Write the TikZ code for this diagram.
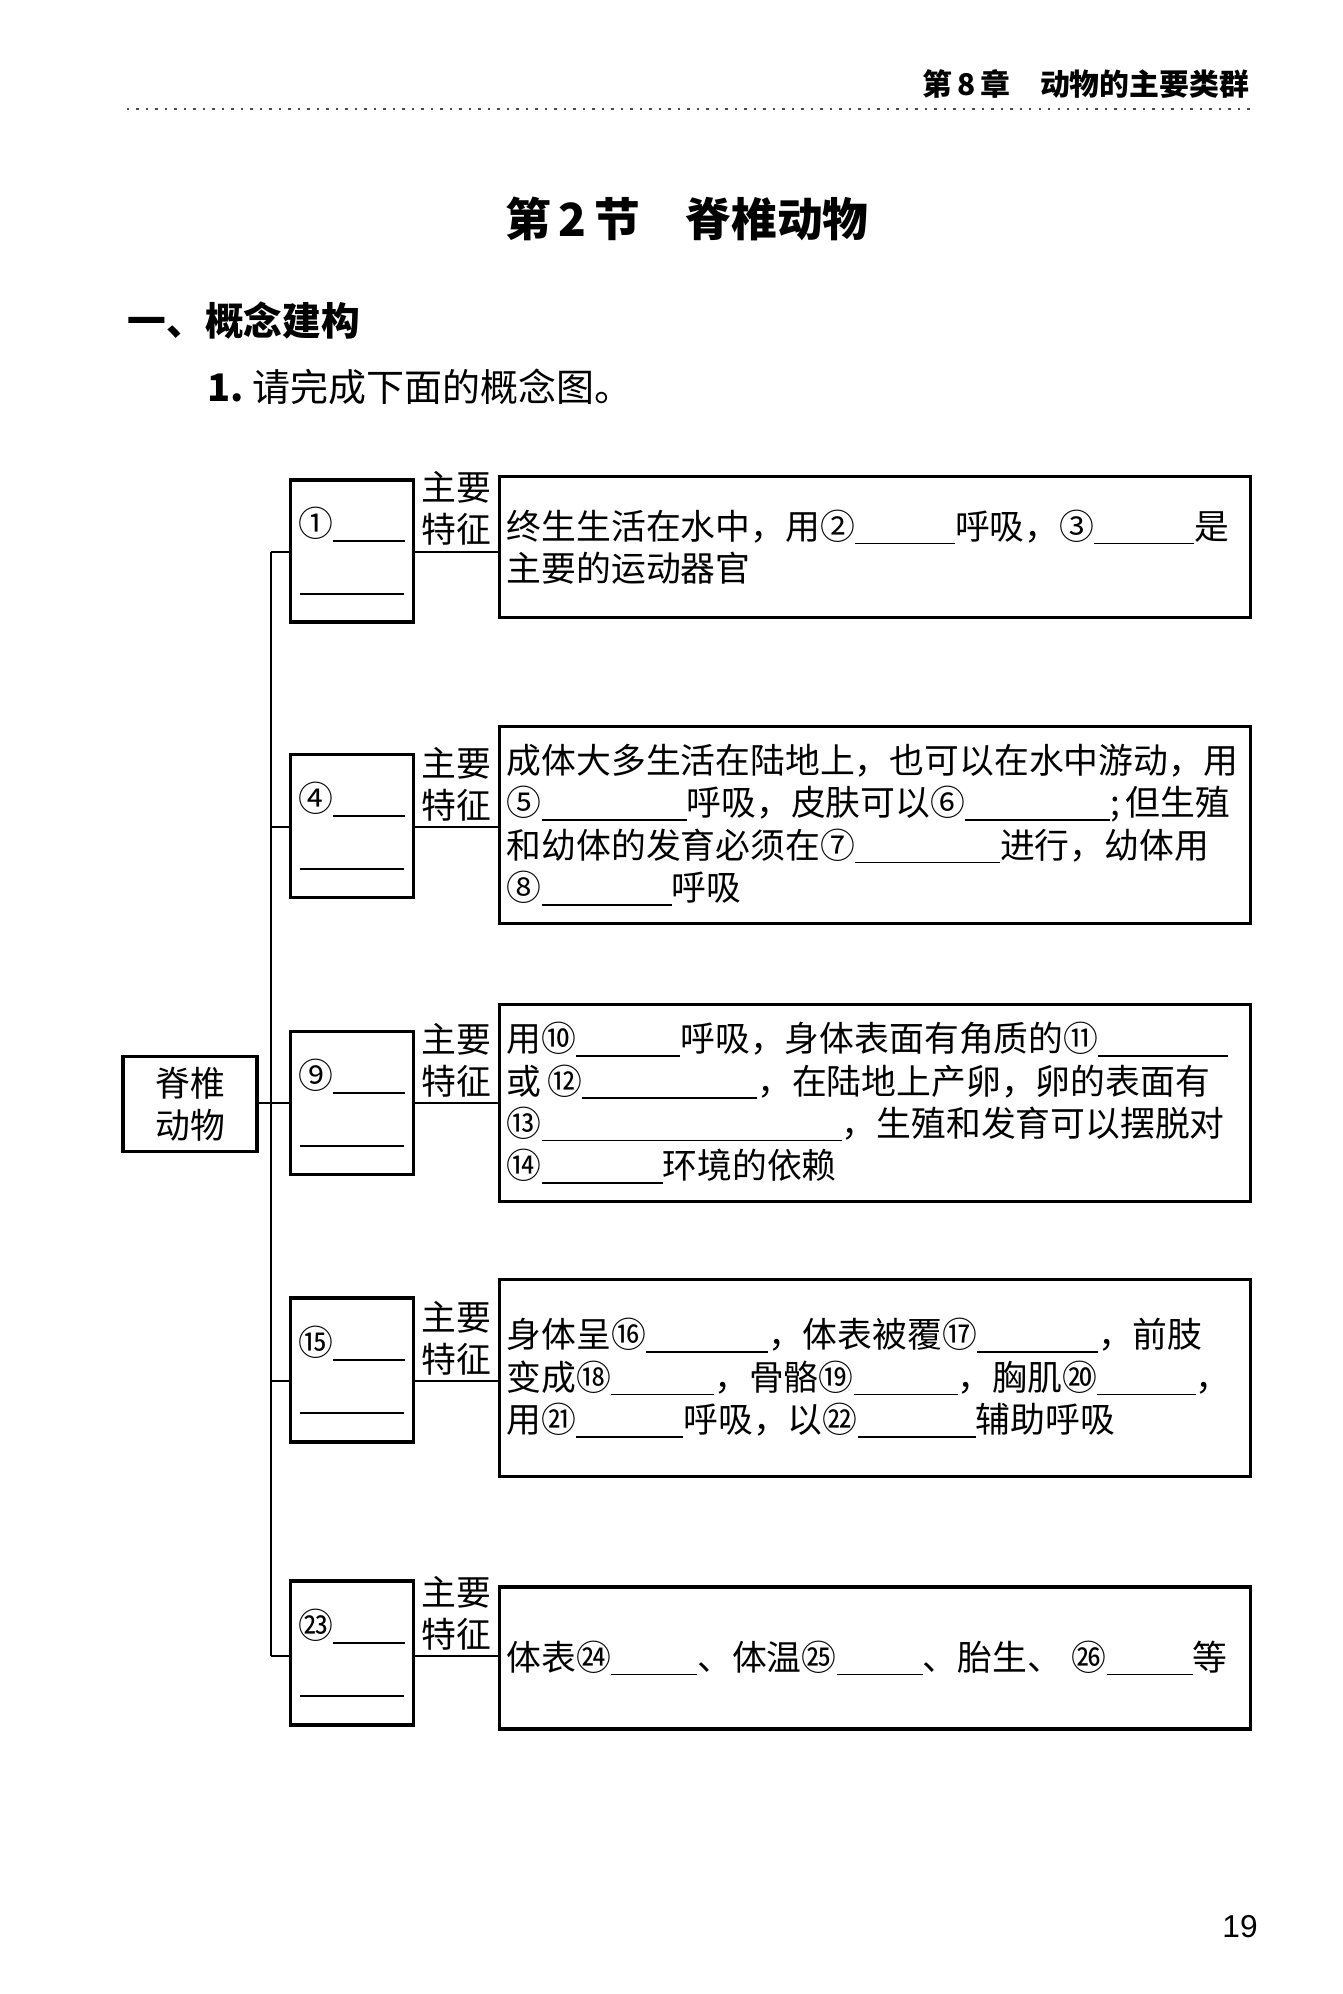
\documentclass[tikz,border=0pt]{standalone}
\usepackage{fontspec}
\setmainfont{Noto Sans CJK SC}
\setsansfont{Liberation Sans}
\newcommand{\blank}[1]{\rule[-0.15em]{#1}{0.5pt}}

\begin{document}
\begin{tikzpicture}[x=0.01cm, y=-0.01cm,
    body/.style={font=\fontsize{9.9}{12}\selectfont},
    kindbox/.style={body, draw, line width=0.9pt, minimum width=1.23cm, align=center, inner sep=0pt},
    featbox/.style={body, draw, line width=0.9pt, minimum width=7.5cm, text width=7.36cm, align=left, inner xsep=0.07cm},
    tag/.style={body, anchor=south, inner sep=1.5pt, align=center},
    link/.style={line width=0.6pt}]
        \useasboundingbox[fill=white] (0,0) rectangle (1342,1994);

        % page head
        \node[anchor=east, inner sep=0pt, font=\bfseries\fontsize{8.5}{10}\selectfont] (chap) at (1250,84) {第\,8\,章\quad 动物的主要类群};
        \draw[dotted, line width=0.7pt, black!70] (127,109) -- (1250,109);
        \node[inner sep=0pt, font=\bfseries\fontsize{13}{15}\selectfont] (title) at (687,219) {第\,2\,节\quad 脊椎动物};
        \node[anchor=west, inner sep=0pt, font=\bfseries\fontsize{11}{13}\selectfont] (part) at (127,321) {一、概念建构};
        \node[anchor=west, inner sep=0pt, font=\fontsize{10.8}{13}\selectfont] (task) at (207,387) {\textbf{1.}\ 请完成下面的概念图。};

        % concept map
        \node[body, draw, line width=0.9pt, minimum width=1.34cm, minimum height=0.95cm, align=center, inner sep=0pt] (root) at (190,1104) {脊椎\\动物};

        \node[kindbox, minimum height=1.42cm] (s1) at (352,551) {①\blank{0.72cm}\\[0.11cm]\blank{1.04cm}};
        \node[kindbox, minimum height=1.43cm] (s2) at (352,826) {④\blank{0.72cm}\\[0.11cm]\blank{1.04cm}};
        \node[kindbox, minimum height=1.43cm] (s3) at (352,1103) {⑨\blank{0.72cm}\\[0.11cm]\blank{1.04cm}};
        \node[kindbox, minimum height=1.44cm] (s4) at (352,1370) {⑮\blank{0.72cm}\\[0.11cm]\blank{1.04cm}};
        \node[kindbox, minimum height=1.44cm] (s5) at (352,1653) {㉓\blank{0.72cm}\\[0.11cm]\blank{1.04cm}};

        \node[featbox, minimum height=1.41cm] (f1) at (875,547) {终生生活在水中，用②\blank{1.0cm}呼吸，③\blank{1.0cm}是\\主要的运动器官};
        \node[featbox, minimum height=1.97cm] (f2) at (875,825) {成体大多生活在陆地上，也可以在水中游动，用\\⑤\blank{1.45cm}呼吸，皮肤可以⑥\blank{1.45cm};\,但生殖\\和幼体的发育必须在⑦\blank{1.45cm}进行，幼体用\\⑧\blank{1.3cm}呼吸};
        \node[featbox, minimum height=1.97cm] (f3) at (875,1103) {用⑩\blank{1.04cm}呼吸，身体表面有角质的⑪\blank{1.3cm}\\或\,⑫\blank{1.75cm}，在陆地上产卵，卵的表面有\\⑬\blank{3.0cm}，生殖和发育可以摆脱对\\⑭\blank{1.21cm}环境的依赖};
        \node[featbox, minimum height=1.97cm] (f4) at (875,1378) {身体呈⑯\blank{1.22cm}，体表被覆⑰\blank{1.21cm}，前肢\\变成⑱\blank{1.03cm}，骨骼⑲\blank{1.04cm}，胸肌⑳\blank{0.99cm}，\\用㉑\blank{1.07cm}呼吸，以㉒\blank{1.18cm}辅助呼吸};
        \node[featbox, minimum height=1.42cm] (f5) at (875,1658) {\mbox{体表㉔\blank{0.86cm}、体温㉕\blank{0.86cm}、胎生、\hspace{0.1cm}㉖\blank{0.86cm}等}};

        \node[tag] (t1) at (456,551) {主要\\特征};
        \node[tag] (t2) at (456,827) {主要\\特征};
        \node[tag] (t3) at (456,1103) {主要\\特征};
        \node[tag] (t4) at (456,1381) {主要\\特征};
        \node[tag] (t5) at (456,1656) {主要\\特征};

        \coordinate (j1) at (271,552);
        \coordinate (j2) at (271,827);
        \coordinate (j3) at (271,1103);
        \coordinate (j4) at (271,1381);
        \coordinate (j5) at (271,1656);

        \draw[link] (j1) -- (j5);
        \draw[link] (root.east |- j3) -- (j3);
        \draw[link] (j1) -- (j1 -| s1.west);
        \draw[link] (j2) -- (j2 -| s2.west);
        \draw[link] (j3) -- (j3 -| s3.west);
        \draw[link] (j4) -- (j4 -| s4.west);
        \draw[link] (j5) -- (j5 -| s5.west);
        \draw[link] (s1.east |- j1) -- (j1 -| f1.west);
        \draw[link] (s2.east |- j2) -- (j2 -| f2.west);
        \draw[link] (s3.east |- j3) -- (j3 -| f3.west);
        \draw[link] (s4.east |- j4) -- (j4 -| f4.west);
        \draw[link] (s5.east |- j5) -- (j5 -| f5.west);

        \node[inner sep=0pt, font=\sffamily\fontsize{9}{11}\selectfont] (page) at (1240,1927) {19};
    \end{tikzpicture}
\end{document}
